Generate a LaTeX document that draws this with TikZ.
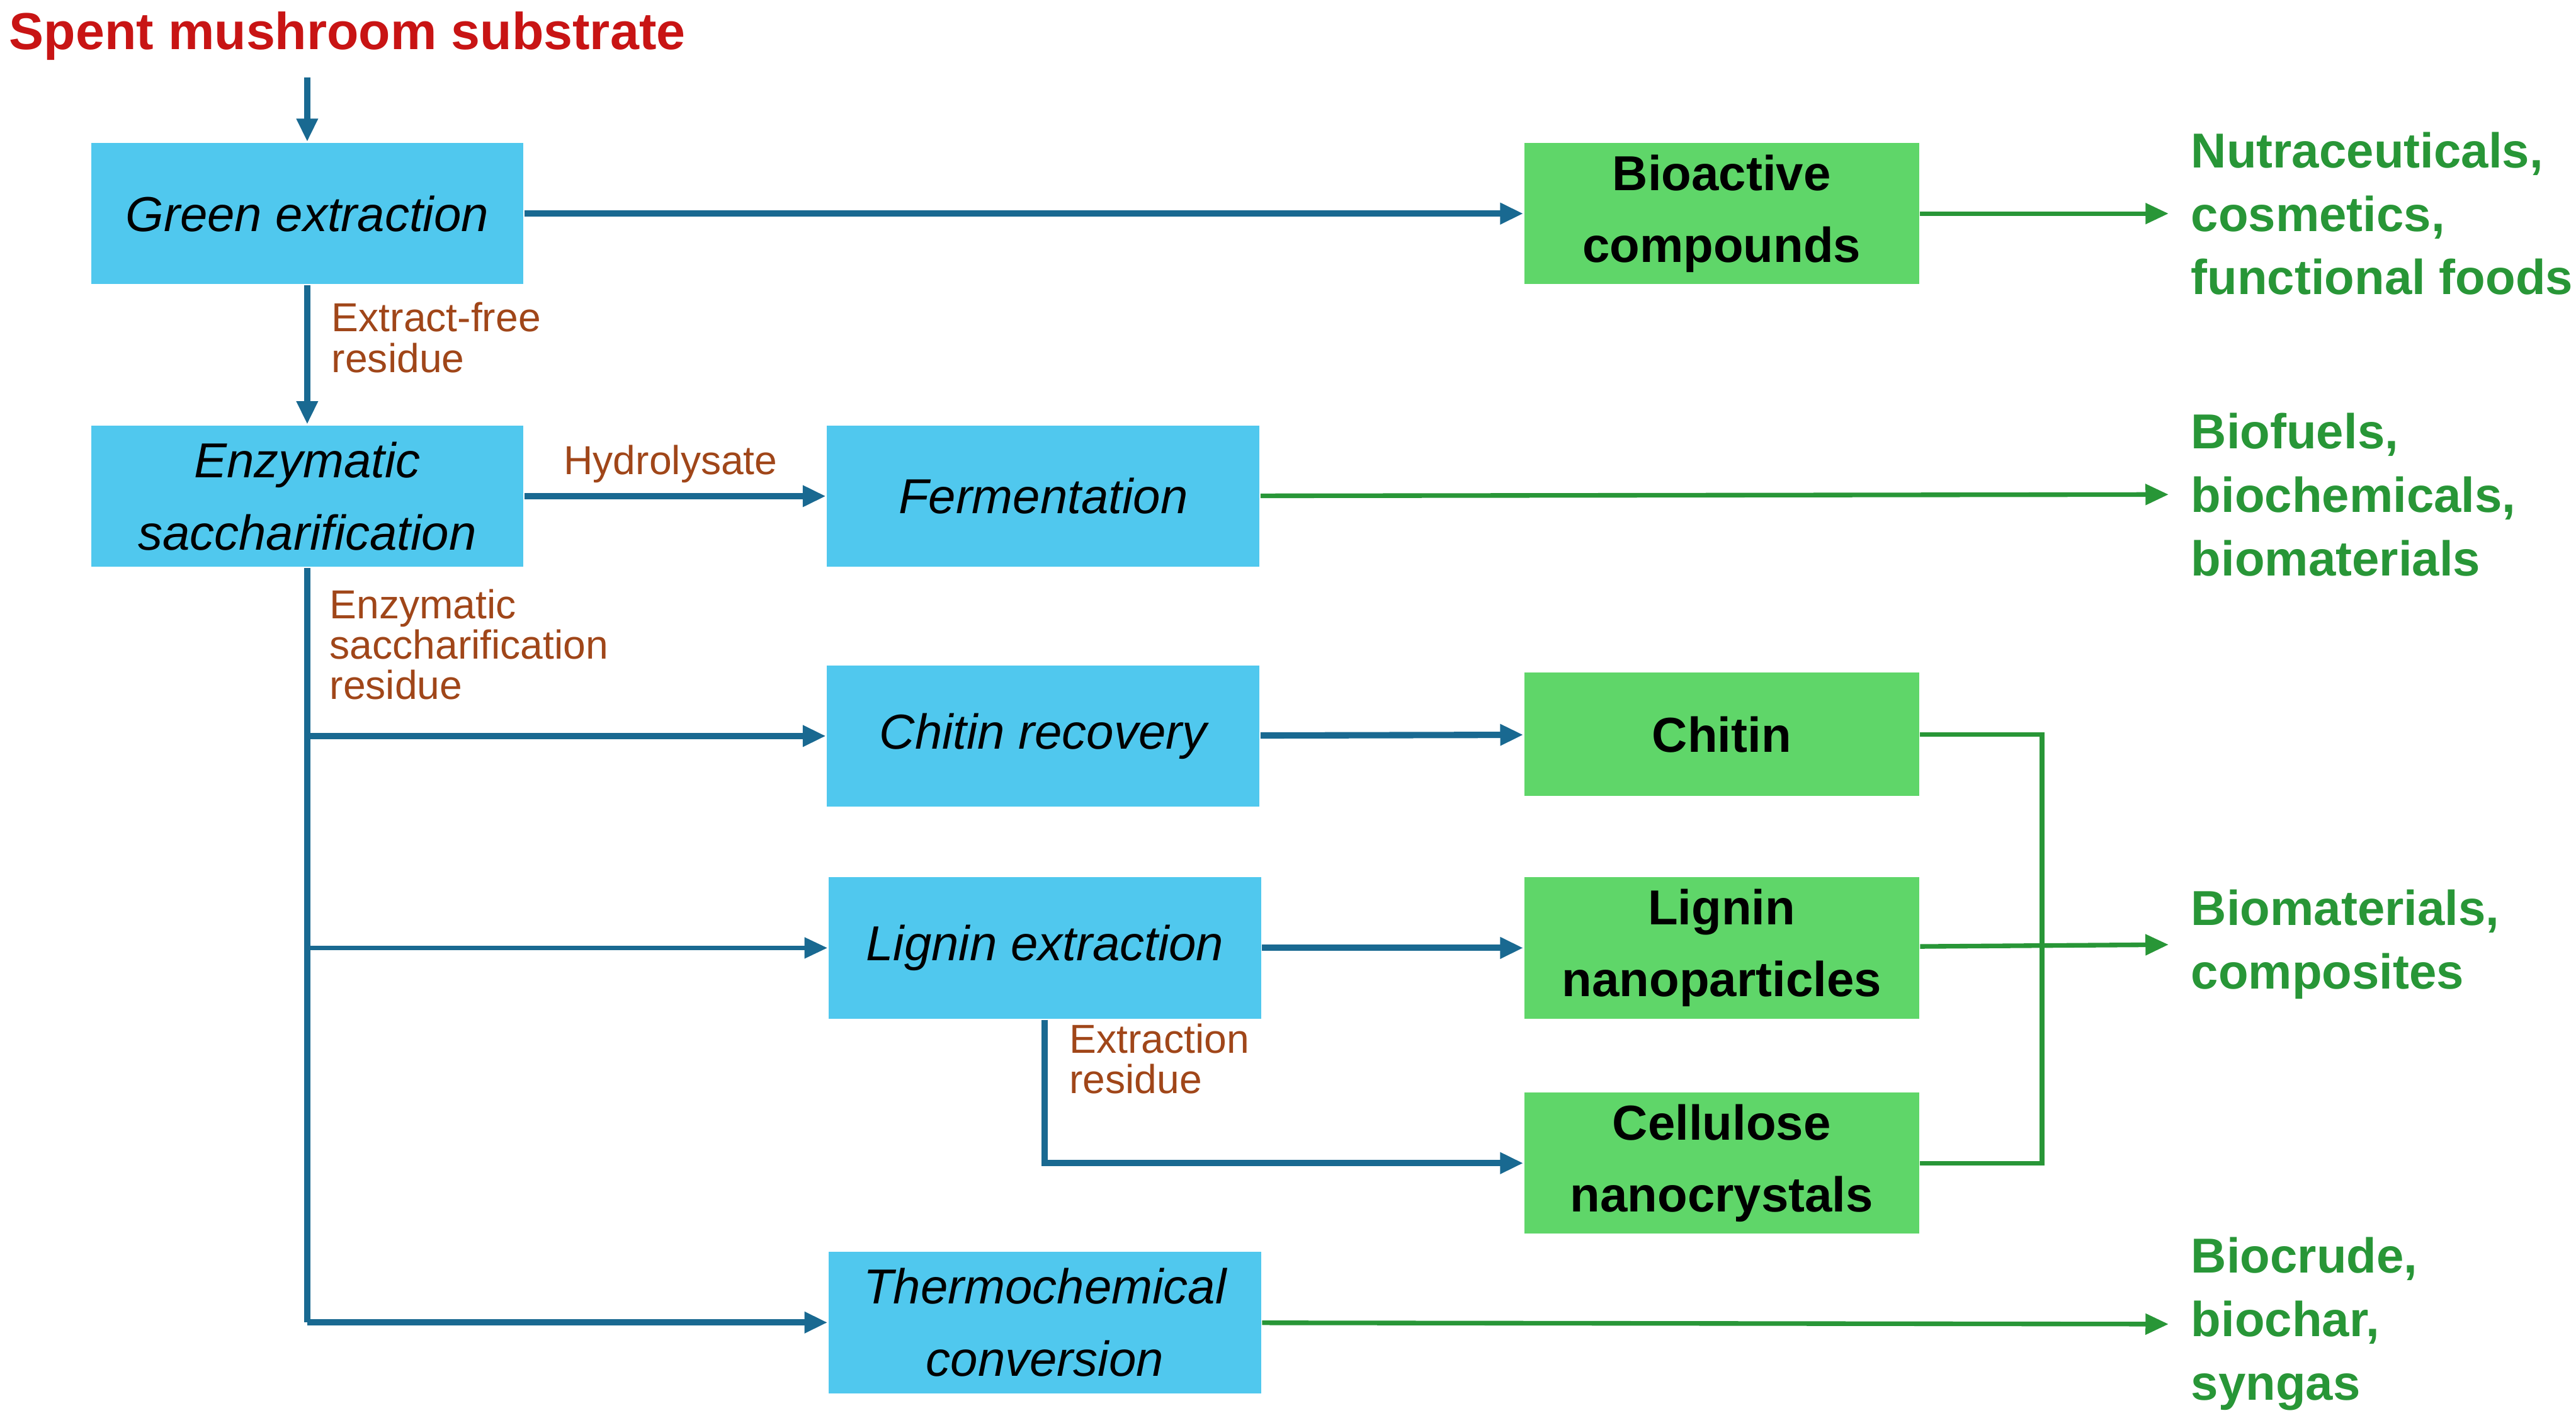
\documentclass[tikz,border=0pt]{standalone}
\usepackage{fontspec}
\setmainfont{Liberation Sans}
\usetikzlibrary{arrows.meta}
\definecolor{procblue}{RGB}{80,200,238}
\definecolor{prodgreen}{RGB}{95,214,105}
\definecolor{linkblue}{RGB}{25,105,145}
\definecolor{usegreen}{RGB}{40,150,55}
\definecolor{labbrown}{RGB}{160,70,25}
\definecolor{titlered}{RGB}{200,20,20}
\begin{document}
\begin{tikzpicture}[x=0.01cm, y=-0.01cm,
    proc/.style={fill=procblue, minimum width=2.63cm, minimum height=0.86cm, align=center, font=\fontsize{8.5}{12.5}\selectfont\itshape, inner sep=0pt},
    prod/.style={fill=prodgreen, minimum width=2.4cm, minimum height=0.86cm, align=center, font=\fontsize{8.5}{12.5}\selectfont\bfseries, inner sep=0pt},
    use/.style={anchor=west, align=left, text=usegreen, font=\fontsize{8.5}{11}\selectfont\bfseries, inner sep=0pt},
    lab/.style={anchor=north west, align=left, text=labbrown, font=\fontsize{7}{7}\selectfont, inner sep=0pt},
    flow/.style={-{Triangle[length=4pt,width=3.5pt]}, linkblue, line width=1.1pt},
    toward/.style={-{Triangle[length=4pt,width=3.5pt]}, usegreen, line width=0.8pt}]
    \useasboundingbox (0,0) rectangle (1568,863);
    \node[anchor=west, text=titlered, font=\fontsize{9}{11}\selectfont\bfseries, inner sep=0pt] (sms) at (5,22) {Spent mushroom substrate};
    \coordinate (top) at (187,47);

    \node[proc] (green) at (187,130) {Green extraction};
    \node[proc] (enzym) at (187,302) {Enzymatic\\saccharification};
    \node[proc] (ferm) at (635,302) {Fermentation};
    \node[proc] (chitrec) at (635,448) {Chitin recovery};
    \node[proc] (ligext) at (636,577) {Lignin extraction};
    \node[proc] (thermo) at (636,805) {Thermochemical\\conversion};

    \node[prod] (bioact) at (1048,130) {Bioactive\\compounds};
    \node[prod, minimum height=0.75cm] (chitin) at (1048,447) {Chitin};
    \node[prod] (lignp) at (1048,577) {Lignin\\nanoparticles};
    \node[prod] (cellnc) at (1048,708) {Cellulose\\nanocrystals};

    \node[use] (nutra) at (1333,130) {Nutraceuticals,\\cosmetics,\\functional foods};
    \node[use] (fuels) at (1333,301) {Biofuels,\\biochemicals,\\biomaterials};
    \node[use] (mater) at (1333,575) {Biomaterials,\\composites};
    \node[use] (crude) at (1333,806) {Biocrude,\\biochar,\\syngas};

    % process links
    \draw[flow] (top) -- (green.north);
    \draw[flow] (green) -- (bioact);
    \draw[flow] (green) -- (enzym) node[lab, pos=0.1, xshift=0.13cm] {Extract-free\\residue};
    \draw[flow] (enzym) -- (ferm) node[lab, pos=0.12, yshift=0.33cm] {Hydrolysate};
    \coordinate (trunk) at (187,805);
    \draw[linkblue, line width=1.1pt] (enzym.south) -- (trunk);
    \node[lab] (esr) at (200,358) {Enzymatic\\saccharification\\residue};
    \draw[flow] (187,448) -- (chitrec);
    \draw[flow, line width=0.8pt] (187,577) -- (ligext);
    \draw[flow] (trunk) -- (thermo);
    \draw[flow] (chitrec) -- (chitin);
    \draw[flow] (ligext) -- (lignp);
    \draw[flow] (ligext.south) |- (cellnc) node[lab, pos=0.1, xshift=0.13cm, yshift=0.17cm] {Extraction\\residue};

    % product uses
    \draw[toward] (bioact) -- (1320,130);
    \draw[toward] (ferm) -- (1320,301);
    \draw[toward] (thermo) -- (1320,806);
    \draw[toward] (lignp) -- (1320,575);
    \draw[usegreen, line width=0.8pt] (chitin.east) -- (1243,447) -- (1243,708) -- (cellnc.east);
\end{tikzpicture}
\end{document}
